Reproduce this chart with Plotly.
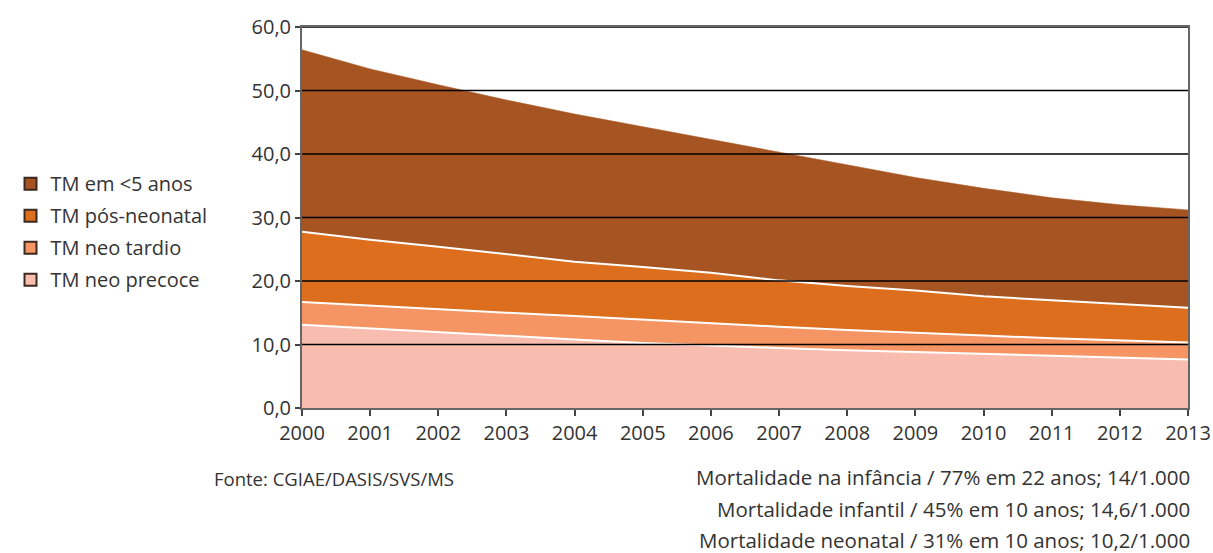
import plotly.graph_objects as go

years = list(range(2000, 2014))

# cumulative boundaries (rates per 1.000)
tm_neo_precoce = [13.1, 12.5, 11.95, 11.4, 10.8, 10.25, 9.8, 9.45, 9.1, 8.8, 8.45, 8.2, 7.9, 7.65]
tm_neo_tardio = [16.7, 16.1, 15.6, 15.0, 14.5, 13.9, 13.4, 12.8, 12.3, 11.8, 11.4, 11.0, 10.6, 10.3]
tm_pos_neonatal = [27.75, 26.5, 25.4, 24.25, 23.05, 22.2, 21.3, 20.1, 19.2, 18.5, 17.6, 16.95, 16.4, 15.8]
tm_menor5 = [56.4, 53.4, 50.9, 48.5, 46.3, 44.3, 42.4, 40.3, 38.4, 36.3, 34.6, 33.1, 32.0, 31.2]

series_names = ["TM neo precoce", "TM neo tardio", "TM pós-neonatal", "TM em &lt;5 anos"]
series_values = [tm_neo_precoce, tm_neo_tardio, tm_pos_neonatal, tm_menor5]
colors = ["#F9BDAF", "#F49563", "#DC6E1E", "#A65522"]

y_ticks = [0, 10, 20, 30, 40, 50, 60]

source_text = "Fonte: CGIAE/DASIS/SVS/MS"
note_lines = [
    "Mortalidade na infância / 77% em 22 anos; 14/1.000",
    "Mortalidade infantil / 45% em 10 anos; 14,6/1.000",
    "Mortalidade neonatal / 31% em 10 anos; 10,2/1.000",
]

FONT = "Open Sans"
TXT = "#333333"
FS = 20

fig = go.Figure()
for i, (name, vals, col) in enumerate(zip(series_names, series_values, colors)):
    fig.add_trace(go.Scatter(
        x=years, y=vals, mode="lines",
        line=dict(color="white" if i < 3 else col, width=2 if i < 3 else 0.5),
        fill="tozeroy" if i == 0 else "tonexty",
        fillcolor=col, showlegend=False, hoverinfo="x+y",
    ))

# legend entries (square swatches), top entry = last series
for i in reversed(range(len(series_names))):
    fig.add_trace(go.Scatter(
        x=[None], y=[None], mode="markers", name=series_names[i],
        legendgroup=f"g{i}",
        marker=dict(symbol="square", size=15, color=colors[i], line=dict(color="#3a2a20", width=1.5)),
    ))

# gridlines above the areas
for t in y_ticks[1:]:
    fig.add_shape(type="line", xref="paper", x0=0, x1=1, yref="y", y0=t, y1=t,
                  line=dict(color="black", width=1.5), layer="above")

fig.update_layout(
    width=1213, height=553,
    margin=dict(l=302, r=25, t=27, b=145, autoexpand=False),
    paper_bgcolor="white", plot_bgcolor="white",
    separators=",.",
    font=dict(family=FONT, size=FS, color=TXT),
    legend=dict(
        x=-0.329, xanchor="left", y=0.64, yanchor="top",
        traceorder="grouped", tracegroupgap=3,
        font=dict(family=FONT, size=FS, color=TXT),
        itemsizing="constant", bgcolor="rgba(0,0,0,0)",
    ),
    xaxis=dict(
        range=[2000, 2013], tickmode="array", tickvals=years,
        ticktext=[str(y) for y in years],
        ticks="outside", ticklen=6, tickwidth=1.5, tickcolor="#444",
        showgrid=False, showline=True, linecolor="#666", linewidth=1.5,
        mirror=True, zeroline=False,
        tickfont=dict(family=FONT, size=FS, color=TXT),
    ),
    yaxis=dict(
        range=[0, 60], tickmode="array", tickvals=y_ticks,
        tickformat=".1f",
        ticks="outside", ticklen=5, tickwidth=1.5, tickcolor="#444",
        showgrid=False, showline=True, linecolor="#666", linewidth=2,
        mirror=True, zeroline=False,
        tickfont=dict(family=FONT, size=FS, color=TXT),
    ),
)

fig.add_annotation(text=source_text, xref="paper", yref="paper",
                   x=(212 - 302) / 886, y=-(478 - 408) / 381,
                   xanchor="left", yanchor="middle", showarrow=False,
                   font=dict(family=FONT, size=18.5, color=TXT))
for k, line in enumerate(note_lines):
    fig.add_annotation(text=line, xref="paper", yref="paper",
                       x=(1192 - 302) / 886, y=-(477 + 31.5 * k - 408) / 381,
                       xanchor="right", yanchor="middle", showarrow=False,
                       font=dict(family=FONT, size=20.5, color=TXT))

fig.write_html(
    "out.html",
    config={"displayModeBar": False},
    post_script="document.body.style.margin='0';document.body.style.overflow='hidden';",
)
